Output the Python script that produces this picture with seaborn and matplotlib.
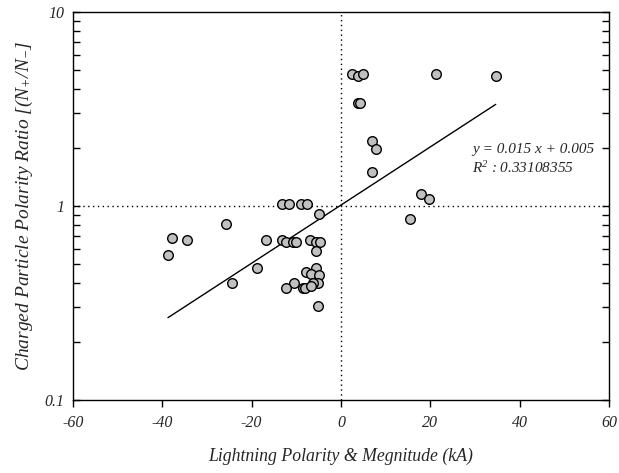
import matplotlib
matplotlib.use("Agg")
import matplotlib.pyplot as plt
import numpy as np
import pandas as pd
import seaborn as sns
from matplotlib.ticker import LogLocator, FixedLocator, FixedFormatter, NullFormatter

# ---- data ----
lightning_ka = [2.5, 3.8, 4.9, 21.2, 34.6, 3.7, 4.2, 6.9, 7.8, 7.0, 18.0, 19.6, 15.4,
                -13.3, -11.6, -8.9, -7.7, -4.9,
                -16.7, -13.3, -12.2, -10.7, -10.0, -7.0, -5.5, -4.8, -5.7,
                -5.7, -7.9, -6.6, -5.0, -5.1, -6.3, -10.5, -12.2, -8.6, -8.1, -6.6, -5.1,
                -25.8, -37.9, -34.5, -38.7, -18.9, -24.4]
polarity_ratio = [4.80, 4.69, 4.80, 4.79, 4.68, 3.38, 3.38, 2.16, 1.96, 1.49, 1.16, 1.09, 0.86,
                  1.03, 1.03, 1.03, 1.03, 0.91,
                  0.668, 0.668, 0.65, 0.65, 0.65, 0.668, 0.65, 0.65, 0.586,
                  0.48, 0.458, 0.445, 0.44, 0.40, 0.40, 0.40, 0.38, 0.38, 0.38, 0.385, 0.306,
                  0.81, 0.686, 0.668, 0.56, 0.48, 0.40]
fit_slope = 0.015
fit_intercept = 0.005
r_squared = "0.33108355"
x_ticks = [-60, -40, -20, 0, 20, 40, 60]
y_ticks = [0.1, 1, 10]
y_tick_labels = ["0.1", "1", "10"]

df = pd.DataFrame({"x": lightning_ka, "y": polarity_ratio})

sns.set_theme(style="white")
plt.rcParams["font.family"] = ["Liberation Serif", "DejaVu Serif"]
plt.rcParams["font.style"] = "italic"
plt.rcParams["mathtext.fontset"] = "custom"
plt.rcParams["mathtext.rm"] = "Liberation Serif:italic"
plt.rcParams["mathtext.it"] = "Liberation Serif:italic"
plt.rcParams["mathtext.default"] = "it"

fig = plt.figure(figsize=(6.19, 4.73), dpi=100)
ax = fig.add_axes([0.1175, 0.1543, 0.8668, 0.8203])

# reference lines
ax.axhline(1, color="black", linestyle=(0, (1, 2.5)), linewidth=1.0, zorder=1)
ax.axvline(0, color="black", linestyle=(0, (1, 2.5)), linewidth=1.0, zorder=1)

# regression line (log10 y = a x + b) over data range
xf = np.linspace(min(lightning_ka), max(lightning_ka), 100)
yf = 10 ** (fit_slope * xf + fit_intercept)
sns.lineplot(x=xf, y=yf, ax=ax, color="black", linewidth=1.0, zorder=2)

sns.scatterplot(data=df, x="x", y="y", ax=ax, s=48, color="#c0c0c0",
                edgecolor="black", linewidth=1.0, zorder=3)

ax.set_yscale("log")
ax.set_xlim(-60, 60)
ax.set_ylim(0.1, 10)

ax.xaxis.set_major_locator(FixedLocator(x_ticks))
ax.xaxis.set_major_formatter(FixedFormatter([str(t) for t in x_ticks]))
ax.yaxis.set_major_locator(FixedLocator(y_ticks))
ax.yaxis.set_major_formatter(FixedFormatter(y_tick_labels))
ax.yaxis.set_minor_locator(LogLocator(base=10, subs=np.arange(2, 10)))
ax.yaxis.set_minor_formatter(NullFormatter())

ax.tick_params(axis="x", which="major", direction="out", length=5, width=1,
               bottom=True, top=False, labelsize=11.5, pad=6, color="black")
ax.tick_params(axis="y", which="both", direction="in", length=5, width=1,
               left=True, right=True, labelsize=11.5, pad=6, color="black")

for sp in ax.spines.values():
    sp.set_color("black")
    sp.set_linewidth(1.0)
    sp.set_visible(True)

ax.set_xlabel("Lightning Polarity & Megnitude (kA)", fontsize=12.8, fontstyle="italic", labelpad=12)
ax.set_ylabel("Charged Particle Polarity Ratio [(N$_{+}$/N$_{-}$]", fontsize=14,
              fontstyle="italic", labelpad=7)

ax.text(29.3, 1.95, f"y = {fit_slope} x + {fit_intercept}", fontsize=11, fontstyle="italic",
        va="center", ha="left")
ax.text(29.3, 1.57, "R$^{2}$ : " + r_squared, fontsize=11, fontstyle="italic",
        va="center", ha="left")

fig.savefig("out.png", dpi=100)
